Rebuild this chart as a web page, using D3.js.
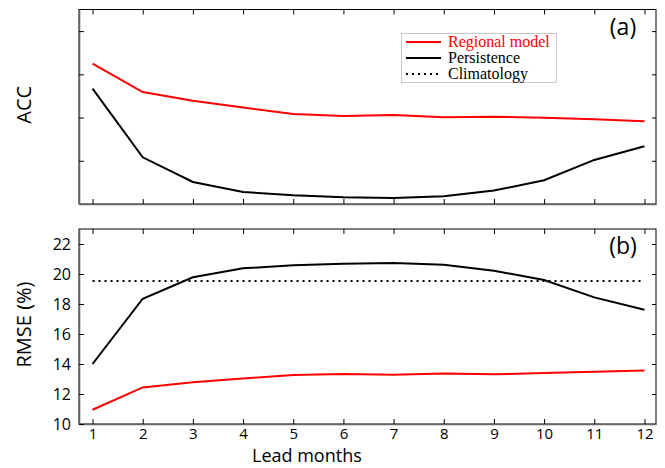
<!DOCTYPE html>
<html>
<head>
<meta charset="utf-8">
<script src="https://cdn.jsdelivr.net/npm/d3@7"></script>
<style>
  body { margin: 0; background: #fff; }
  svg { display: block; }
</style>
</head>
<body>
<div id="chart"></div>
<script>
// lead months 1..12
var months = [1, 2, 3, 4, 5, 6, 7, 8, 9, 10, 11, 12];

// panel (a) ACC
var accRegional    = [0.649, 0.518, 0.478, 0.446, 0.416, 0.407, 0.412, 0.401, 0.404, 0.399, 0.392, 0.383];
var accPersistence = [0.534, 0.216, 0.102, 0.056, 0.040, 0.031, 0.028, 0.036, 0.062, 0.110, 0.204, 0.267];
var accTicks = [0.2, 0.4, 0.6, 0.8];

// panel (b) RMSE (%)
var rmseRegional    = [10.95, 12.44, 12.78, 13.04, 13.27, 13.33, 13.29, 13.36, 13.31, 13.40, 13.49, 13.56];
var rmsePersistence = [14.0, 18.35, 19.78, 20.38, 20.58, 20.69, 20.73, 20.62, 20.22, 19.6, 18.44, 17.62];
var rmseClimatology = 19.53;
var rmseTicks = [10, 12, 14, 16, 18, 20, 22];

var legendItems = [
    {name: "Regional model", color: "#ff0000", dash: null},
    {name: "Persistence", color: "#000", dash: null},
    {name: "Climatology", color: "#000", dash: "2,4"}
];

var W = 665, H = 468;
var left = 79, right = 656;

var svg = d3.select("#chart").append("svg")
    .attr("width", W)
    .attr("height", H);

var x = d3.scaleLinear()
    .domain([0.73, 12.23])
    .range([left, right]);

var font = "'Open Sans', sans-serif";

function panel(top, bottom, yDomain, yTicks, showLabels, label, tag) {
    var y = d3.scaleLinear().domain(yDomain).range([bottom, top]);
    var g = svg.append("g");

    // frame
    g.append("rect")
        .attr("x", left).attr("y", top)
        .attr("width", right - left).attr("height", bottom - top)
        .attr("fill", "none").attr("stroke", "#000").attr("stroke-width", 1);

    // top ticks
    g.append("g")
        .attr("transform", "translate(0," + top + ")")
        .call(d3.axisTop(x).tickValues(months).tickSize(-5).tickSizeOuter(0).tickFormat(""))
        .call(function(a) { a.select(".domain").remove(); });

    // right ticks
    g.append("g")
        .attr("transform", "translate(" + right + ",0)")
        .call(d3.axisRight(y).tickValues(yTicks).tickSize(-4).tickSizeOuter(0).tickFormat(""))
        .call(function(a) { a.select(".domain").remove(); });

    // bottom axis
    var bx = g.append("g")
        .attr("transform", "translate(0," + bottom + ")")
        .call(d3.axisBottom(x).tickValues(months).tickSize(-5).tickSizeOuter(0).tickPadding(4)
            .tickFormat(showLabels ? d3.format("d") : ""));
    bx.select(".domain").attr("stroke", "#666").attr("stroke-width", 1.6);
    bx.selectAll("text").attr("font-family", font).attr("font-size", 15).attr("fill", "#000");

    // left axis
    var ly = g.append("g")
        .attr("transform", "translate(" + left + ",0)")
        .call(d3.axisLeft(y).tickValues(yTicks).tickSize(-5).tickSizeOuter(0).tickPadding(8)
            .tickFormat(showLabels ? d3.format("d") : ""));
    ly.select(".domain").attr("stroke", "#666").attr("stroke-width", 1.6);
    ly.selectAll("text").attr("font-family", font).attr("font-size", 16).attr("fill", "#000");

    // y label
    svg.append("text")
        .attr("transform", "translate(31," + ((top + bottom) / 2 - 2) + ") rotate(-90)")
        .attr("text-anchor", "middle")
        .attr("font-family", font)
        .attr("font-size", 20)
        .text(label);

    // panel tag
    g.append("text")
        .attr("x", 623).attr("y", top + 25)
        .attr("text-anchor", "middle")
        .attr("font-family", font)
        .attr("font-size", 23)
        .text(tag);

    return y;
}

function drawLine(y, values, color) {
    var line = d3.line()
        .x(function(d, i) { return x(months[i]); })
        .y(function(d) { return y(d); });
    svg.append("path")
        .datum(values)
        .attr("d", line)
        .attr("style", "fill: none; stroke: " + color + "; stroke-width: 2;");
}

// (a)
var yA = panel(9.5, 204, [0, 0.9], accTicks, false, "ACC", "(a)");
drawLine(yA, accPersistence, "#000");
drawLine(yA, accRegional, "#ff0000");

// legend
var lg = svg.append("g");
lg.append("rect")
    .attr("x", 401.5).attr("y", 33.5).attr("width", 155).attr("height", 49)
    .attr("fill", "#fff").attr("stroke", "#c8c8c8").attr("stroke-width", 1);
legendItems.forEach(function(d, i) {
    var cy = 42 + i * 16;
    lg.append("line")
        .attr("x1", 406).attr("x2", 441).attr("y1", cy).attr("y2", cy)
        .attr("stroke", d.color).attr("stroke-width", d.dash ? 1.8 : 2)
        .attr("stroke-dasharray", d.dash);
    lg.append("text")
        .attr("x", 448).attr("y", cy + 5)
        .attr("font-family", "'Liberation Serif', 'Times New Roman', serif")
        .attr("font-size", 16)
        .attr("fill", d.color)
        .text(d.name);
});

// (b)
var yB = panel(229, 424, [10, 23], rmseTicks, true, "RMSE (%)", "(b)");
svg.append("line")
    .attr("x1", x(1)).attr("x2", x(12))
    .attr("y1", yB(rmseClimatology)).attr("y2", yB(rmseClimatology))
    .attr("stroke", "#000").attr("stroke-width", 2).attr("stroke-dasharray", "2,4");
drawLine(yB, rmsePersistence, "#000");
drawLine(yB, rmseRegional, "#ff0000");

// x label
svg.append("text")
    .attr("x", 252).attr("y", 462)
    .attr("font-family", font)
    .attr("font-size", 18)
    .text("Lead months");
</script>
</body>
</html>
